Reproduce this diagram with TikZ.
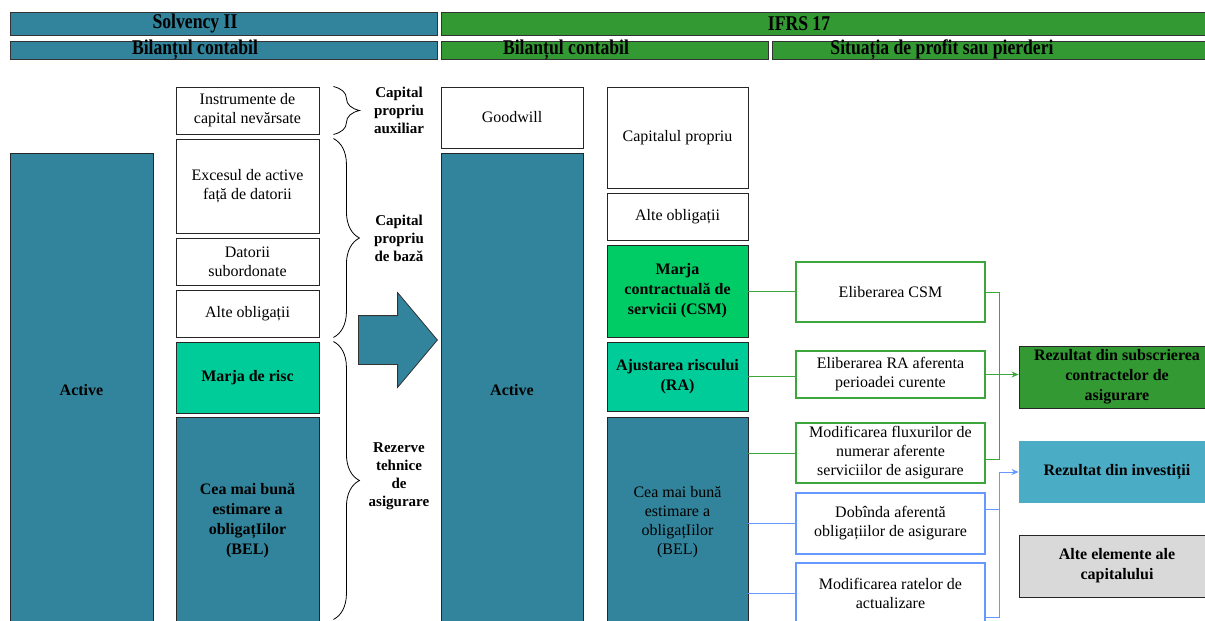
\documentclass[tikz,border=0pt]{standalone}
\usepackage{fontspec}
\setmainfont{Liberation Serif}
\newfontfamily\hdfont[FakeStretch=0.84]{Liberation Serif}
\usepackage{tikz}
\usetikzlibrary{shapes.arrows, arrows.meta, decorations.pathreplacing}
\definecolor{sepia}{RGB}{49,132,155}
\definecolor{ifrsgreen}{RGB}{51,153,51}
\definecolor{csmgreen}{RGB}{0,204,102}
\definecolor{ragreen}{RGB}{0,204,153}
\definecolor{invblue}{RGB}{75,172,198}
\definecolor{linegreen}{RGB}{60,165,60}
\definecolor{lineblue}{RGB}{102,153,255}
\definecolor{boxgray}{RGB}{217,217,217}

\begin{document}
\begin{tikzpicture}[x=1pt, y=-1pt,
  hbar/.style={draw=black!80, line width=1pt, inner sep=0},
  htext/.style={font=\hdfont\bfseries\fontsize{21}{24}\selectfont, inner sep=0},
  box/.style={draw=black!85, fill=white, line width=0.9pt, inner sep=0,
              align=center, font=\fontsize{16}{19}\selectfont},
  boldbox/.style={box, font=\bfseries\fontsize{16}{20}\selectfont},
  pnl/.style={box, line width=2pt, minimum width=189},
  brace/.style={decorate, decoration={brace, amplitude=26pt}, line width=0.8pt},
  bracelabel/.style={font=\bfseries\fontsize{15}{18}\selectfont, align=center},
  gline/.style={linegreen, line width=1pt},
  bline/.style={lineblue, line width=1pt},
  garrow/.style={gline, -{Stealth[length=7pt, width=6pt]}},
  barrow/.style={bline, -{Stealth[length=7pt, width=6pt]}}
]
\clip (0,0) rectangle (1205,621);

% headers
\node[hbar, fill=sepia, minimum width=427, minimum height=23] (solvbar) at (223.5,23.5) {};
\node[htext] (solvtxt) at (195,23.5) {Solvency II};
\node[hbar, fill=ifrsgreen, minimum width=774, minimum height=23] (ifrsbar) at (828,23.5) {};
\node[htext] (ifrstxt) at (799,23.5) {IFRS 17};
\node[hbar, fill=sepia, minimum width=427, minimum height=18] (bil1bar) at (223.5,50) {};
\node[htext] (bil1txt) at (195,50) {Bilanțul contabil};
\node[hbar, fill=ifrsgreen, minimum width=327, minimum height=18] (bil2bar) at (604.5,50) {};
\node[htext] (bil2txt) at (566,50) {Bilanțul contabil};
\node[hbar, fill=ifrsgreen, minimum width=443, minimum height=18] (pnlbar) at (993.5,50) {};
\node[htext] (pnltxt) at (942,50) {Situația de profit sau pierderi};

% Solvency II
\node[boldbox, fill=sepia, minimum width=143, minimum height=474] (act1) at (81.5,390) {Active};
\node[box, minimum width=143, minimum height=47] (instr) at (247.5,110.5) {Instrumente de\\capital nevărsate};
\node[box, minimum width=143, minimum height=94] (exces) at (247.5,186) {Excesul de active\\față de datorii};
\node[box, minimum width=143, minimum height=47] (dator) at (247.5,261.5) {Datorii\\subordonate};
\node[box, minimum width=143, minimum height=47] (alte1) at (247.5,313.5) {Alte obligații};
\node[boldbox, fill=ragreen, minimum width=143, minimum height=71] (marja) at (247.5,377.5) {Marja de risc};
\node[boldbox, fill=sepia, minimum width=143, minimum height=208] (bel1) at (247.5,521) {Cea mai bună\\estimare a\\obligațIilor\\(BEL)};

\draw[brace] ([xshift=14pt]instr.north east) -- ([xshift=14pt]instr.south east);
\draw[brace] ([xshift=14pt]exces.north east) -- ([xshift=14pt]alte1.south east);
\draw[brace] ([xshift=14pt]marja.north east) -- ([xshift=14pt,yshift=6pt]bel1.south east);
\node[bracelabel] (aux) at (399,110) {Capital\\propriu\\auxiliar};
\node[bracelabel] (baza) at (399,238) {Capital\\propriu\\de bază};
\node[bracelabel] (rez) at (399,476) {Rezerve\\tehnice\\de\\asigurare};

\node[single arrow, draw=black!80, fill=sepia, line width=0.8pt,
      inner xsep=0pt, inner ysep=24pt, minimum height=79, anchor=tail,
      single arrow head extend=23pt, single arrow tip angle=100] (shift) at (358,340) {};

% IFRS 17
\node[box, minimum width=142, minimum height=61] (goodwill) at (512,117.5) {Goodwill};
\node[boldbox, fill=sepia, minimum width=142, minimum height=474] (act2) at (512,390) {Active};
\node[box, minimum width=141, minimum height=101] (capprop) at (677.5,137.5) {Capitalul propriu};
\node[box, minimum width=141, minimum height=47] (alte2) at (677.5,216.5) {Alte obligații};
\node[boldbox, fill=csmgreen, minimum width=141, minimum height=92] (csm) at (677.5,291) {Marja\\contractuală de\\servicii (CSM)};
\node[boldbox, fill=ragreen, minimum width=141, minimum height=69] (ra) at (677.5,376.5) {Ajustarea riscului\\(RA)};
\node[box, fill=sepia, minimum width=141, minimum height=210] (bel2) at (677.5,522) {Cea mai bună\\estimare a\\obligațIilor\\(BEL)};

\node[pnl, draw=linegreen, minimum height=60] (elcsm) at (890.5,292) {Eliberarea CSM};
\node[pnl, draw=linegreen, minimum height=47] (elra) at (890.5,374.5) {Eliberarea RA aferenta\\perioadei curente};
\node[pnl, draw=linegreen, minimum height=60] (modflux) at (890.5,453) {Modificarea fluxurilor de\\numerar aferente\\serviciilor de asigurare};
\node[pnl, draw=lineblue, minimum height=61] (dob) at (890.5,523.5) {Dobînda aferentă\\obligațiilor de asigurare};
\node[pnl, draw=lineblue, minimum height=61] (modrate) at (890.5,593.5) {Modificarea ratelor de\\actualizare};

\node[boldbox, fill=ifrsgreen, minimum width=196, minimum height=62] (rezsub) at (1117,377) {Rezultat din subscrierea\\contractelor de\\asigurare};
\node[boldbox, draw=none, fill=invblue, minimum width=196, minimum height=62] (rezinv) at (1117,472) {Rezultat din investiții};
\node[boldbox, fill=boxgray, minimum width=196, minimum height=62] (altecap) at (1117,566) {Alte elemente ale\\capitalului};

\draw[gline] (csm.east) -- (csm.east -| elcsm.west);
\draw[gline] (ra.east) -- (ra.east -| elra.west);
\draw[gline] (bel2.east |- modflux.west) -- (modflux.west);
\draw[bline] (bel2.east |- dob.west) -- (dob.west);
\draw[bline] (bel2.east |- modrate.west) -- (modrate.west);

\coordinate (gbus) at (999,376);
\draw[gline] (elcsm.east) -| (gbus);
\draw[gline] ([yshift=-6pt]modflux.east) -| (gbus);
\draw[garrow] (elra.east) -- (elra.east -| rezsub.west);
\coordinate (bbus) at (999,472);
\draw[bline] ([yshift=14pt]dob.east) -| (bbus);
\draw[bline] ([yshift=-24pt]modrate.east) -| (bbus);
\draw[barrow] (bbus) -- (rezinv.west);

\end{tikzpicture}
\end{document}
